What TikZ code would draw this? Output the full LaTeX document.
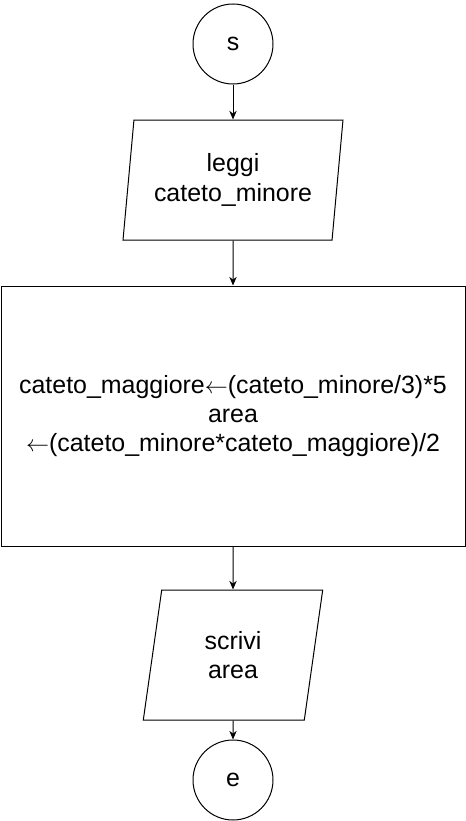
\documentclass[tikz,border=0pt]{standalone}
\usepackage{fontspec}
\setmainfont{Liberation Sans}
\usetikzlibrary{arrows.meta,shapes.geometric,calc}
\newcommand{\assign}{\ensuremath{\leftarrow}}
\tikzset{
    terminal/.style = {circle,
                    fill=white,
                    draw=black,
                    text=black,
                    line width=0.75pt,
                    inner sep=0pt,
                    minimum size=60pt},
    io/.style =     {trapezium,
                    trapezium stretches=true,
                    trapezium left angle=80.54,
                    trapezium right angle=99.46,
                    fill=white,
                    draw=black,
                    text=black,
                    line width=0.75pt,
                    inner sep=0pt,
                    align=center,
                    minimum width=165pt,
                    minimum height=90pt},
    process/.style = {rectangle,
                    fill=white,
                    draw=black,
                    text=black,
                    line width=0.75pt,
                    inner sep=0pt,
                    align=center,
                    minimum width=348pt,
                    minimum height=195pt},
    -,
    flow/.style =   {-{Stealth[length=6.5pt,width=5.5pt]},
                    line width=0.75pt,
                    draw=black},
    every node/.style = {font=\fontsize{18.7}{22}\selectfont}}

\begin{document}
\begin{tikzpicture}[x=0.75pt,y=-0.75pt]
            \useasboundingbox (0,0) rectangle (466,821);
            \node[terminal]  (S)    at (233,44)    {s};
            \node[io]        (IN)   at (233,180)   {leggi\\cateto\_minore};
            \node[process]   (CALC) at (233,416)   {cateto\_maggiore\assign(cateto\_minore/3)*5\\area\\\assign(cateto\_minore*cateto\_maggiore)/2};
            \node[io,trapezium left angle=81.25,trapezium right angle=98.75,
                  minimum width=135pt,minimum height=97.5pt]
                             (OUT)  at (233,655)   {scrivi\\area};
            \node[terminal]  (E)    at (233,780)   {e};
            \draw[flow]  (S) -- (IN);
            \draw[flow]  (IN) -- (CALC);
            \draw[flow]  (CALC) -- (OUT);
            \draw[flow]  (OUT) -- (E);
        \end{tikzpicture}
\end{document}
